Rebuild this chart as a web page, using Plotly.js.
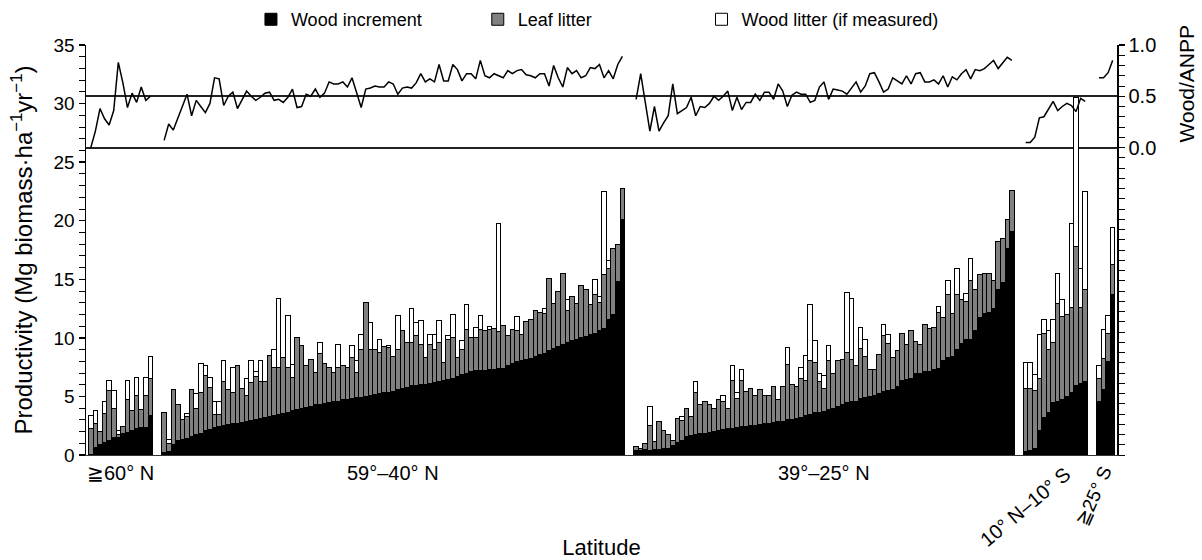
<!DOCTYPE html>
<html><head><meta charset="utf-8">
<script src="https://cdn.plot.ly/plotly-3.0.1.min.js"></script>
<style>html,body{margin:0;padding:0;background:#fff}#chart{width:1202px;height:560px}</style>
</head><body><div id="chart"></div>
<script>
// Group (latitude band) labels
const groupLabels = ['≧60° N', '59°–40° N', '39°–25° N', '10° N–10° S', '≧25° S'];
const seriesNames = ['Wood increment', 'Leaf litter', 'Wood litter (if measured)'];
const rightTitle = 'Wood/ANPP';
const rightTickVals = [0, 0.5, 1];
const rightTickText = ['0.0', '0.5', '1.0'];

// ≥60° N
const g1Wood   = [0.05,0.6,0.91,1.05,1.22,1.51,1.51,1.85,1.94,2.13,2.25,2.31,2.33,3.33];
const g1Leaf   = [2.23,2.1,1.08,2.51,4.25,2.48,0.25,0.57,2.81,1.63,2.79,1.59,2.71,3.22];
const g1Litter = [1.05,1.09,0,1.05,0.85,1.48,0.29,0,1.57,0,1.56,0,1.56,1.85];
const g1Ratio  = [0.0,0.16,0.38,0.28,0.22,0.36,0.83,0.63,0.39,0.53,0.44,0.59,0.46,0.50];

// 59°–40° N
const g2Wood = [0.25,0.3,0.91,1.28,1.34,1.42,1.57,1.71,1.85,2.13,2.19,2.33,2.42,
  2.5,2.6,2.65,2.7,2.8,2.85,2.95,3.0,3.1,3.2,3.27,3.35,3.5,3.56,3.65,3.8,3.9,4.0,4.05,4.15,4.27,4.35,4.4,4.45,4.55,4.6,4.7,4.75,4.84,
  4.9,4.95,5.0,5.1,5.2,5.25,5.3,5.35,5.4,5.55,5.7,5.8,5.9,5.95,6.0,6.05,6.1,6.15,6.25,6.35,6.45,6.55,6.7,6.9,7.0,7.15,7.2,7.22,7.24,7.26,
  7.3,7.35,7.4,7.6,7.8,7.95,8.05,8.15,8.25,8.4,8.55,8.7,8.9,9.1,9.3,9.45,9.6,9.75,9.85,10.0,10.1,10.25,10.4,10.6,10.8,11.6,12.0,14.8,20.1];
const g2Leaf = [3.35,0.7,4.69,3.05,1.71,1.85,4.03,2.27,3.47,4.62,3.56,1.09,1.05,
  3.76,2.95,2.67,4.9,2.89,2.27,3.23,3.69,3.16,3.06,5.21,4.11,3.96,4.75,3.81,2.8,6.15,5.34,3.58,4.02,2.79,4.28,3.37,3.01,2.48,2.86,2.9,2.71,3.47,
  2.13,4.07,8.0,3.92,3.82,3.49,3.95,3.82,3.05,3.47,4.89,3.79,3.69,4.21,3.45,2.26,3.35,2.87,3.34,1.53,3.43,3.47,1.61,2.12,3.73,2.87,2.82,3.51,3.35,3.47,
  3.52,3.18,3.62,2.56,2.93,2.72,2.25,3.24,3.28,3.93,3.6,3.4,6.19,3.85,4.65,6.06,2.73,3.77,3.1,4.46,3.99,2.56,3.26,2.44,4.57,4.34,5.65,3.13,2.67];
const g2Litter = [0,0.35,0,0,0,0.29,0,1.29,2.45,0.85,0.85,1.13,1.08,
  1.77,0,2.14,0,0,1.43,1.85,0.43,1.77,0,0,1.56,5.86,0,4.44,1.14,0,0,0,0,0,0.99,0,0,0,1.99,0,0,1.03,
  1.0,1.28,0,2.28,0,1.14,0,0.17,0,2.85,0,0,2.88,1.17,1.99,0,0.85,1.28,1.85,0,0.28,1.99,0,0.72,2.14,0,0.85,1.14,0,0.27,
  0,9.25,0,0,0,1.14,0,0,0,0,0,0.37,0,0,0,0,0.91,0,0,0,0,0,1.28,0.48,7.12,0.66,0,0,0];
const g2Ratio = [0.07,0.23,0.17,0.29,0.40,0.52,0.31,0.46,0.40,0.34,0.43,0.68,0.67,
  0.41,0.50,0.54,0.38,0.47,0.55,0.50,0.46,0.49,0.53,0.54,0.46,0.47,0.44,0.49,0.57,0.39,0.40,0.52,0.50,0.57,0.49,0.53,0.64,0.62,0.62,0.64,0.59,0.68,
  0.53,0.39,0.57,0.58,0.60,0.59,0.59,0.64,0.62,0.52,0.58,0.59,0.58,0.63,0.72,0.64,0.67,0.64,
  0.81,0.65,0.65,0.81,0.76,0.65,0.72,0.72,0.67,0.85,0.70,0.68,0.72,0.70,0.68,0.75,0.72,0.75,0.76,0.71,0.70,0.68,0.72,0.72,0.60,0.80,0.68,0.59,0.78,0.72,0.75,0.68,0.70,0.78,0.77,0.81,0.68,0.75,0.67,0.81,0.89];

// 39°–25° N
const g3Wood = [0.35,0.41,0.45,0.42,0.46,0.46,0.52,0.53,0.8,1.05,1.2,1.6,1.65,1.75,1.8,1.85,1.95,2.0,2.1,2.2,2.25,2.3,2.35,2.4,2.45,2.5,2.55,2.6,
  2.65,2.7,2.75,2.85,2.9,3.0,3.05,
  3.1,3.2,3.35,3.5,3.6,3.65,3.75,3.9,4.0,4.1,4.3,4.5,4.55,4.6,4.8,4.95,5.0,5.1,5.25,5.4,5.5,5.6,5.85,
  6.4,6.45,6.5,7.0,7.0,7.1,7.1,7.3,7.4,8.1,8.3,8.4,9.0,9.5,9.9,9.9,10.6,11.7,12.1,12.2,12.5,14.1,14.7,17.6,19.1];
const g3Leaf = [0.36,0.16,0.55,2.14,0.68,2.44,1.61,1.18,0.48,2.08,1.73,2.38,1.62,3.57,2.47,2.7,2.32,1.98,2.6,2.41,1.73,4.1,2.49,4.0,2.95,3.19,2.57,2.95,
  2.39,2.42,3.09,1.85,2.94,4.74,2.98,
  2.79,3.35,3.05,4.53,4.28,2.61,1.94,4.13,2.92,3.93,3.87,4.24,3.62,3.0,4.25,3.5,2.32,2.22,3.35,4.76,4.04,2.71,3.03,
  4.0,2.95,4.1,2.7,2.4,4.0,3.7,3.6,4.8,3.6,5.4,3.7,4.7,3.8,3.2,5.0,3.5,3.7,3.4,3.3,2.4,4.1,3.8,2.5,3.5];
const g3Litter = [0,0,0,1.62,0,0,0,0,0,0,0.34,0,0,0.94,0,0,0,0,0,0.43,0,1.23,0.48,0.92,0,0,0,0,
  0,0,0,0,0,1.45,0,
  0,0.91,2.08,4.84,1.86,0.66,1.06,1.28,0,0,0,5.15,5.15,0,1.85,1.43,0,0,0,1.0,0.76,0,0,
  0,0,0,0,0,0,0,0,0.5,0,1.2,0,2.2,0,0.7,1.9,0,0,0,0,0,0,0,0,0];
const g3Ratio = [0.47,0.72,0.44,0.16,0.40,0.16,0.24,0.31,0.62,0.33,0.36,0.39,0.49,0.31,0.40,0.39,0.43,0.50,0.46,0.50,0.55,0.36,0.49,0.37,0.44,0.44,0.52,0.46,0.54,0.54,0.47,0.62,0.55,0.40,0.51,
  0.54,0.52,0.52,0.44,0.46,0.59,0.64,0.47,0.57,0.56,0.55,0.52,0.58,0.64,0.54,0.60,0.72,0.73,0.64,0.54,0.57,0.68,0.65,0.62,0.70,0.62,0.72,0.73,0.64,0.64,0.66,0.62,0.70,0.59,0.69,0.66,0.72,0.76,0.67,0.76,0.75,0.77,0.81,0.85,0.77,0.83,0.88,0.85];

// 10° N–10° S
const g4Wood   = [0.3,0.4,0.57,2.1,3.2,3.6,4.5,4.55,4.75,5.0,5.3,5.9,6.1,6.3];
const g4Leaf   = [5.4,5.3,4.93,4.4,7.2,5.4,5.1,8.35,7.05,7.0,7.3,11.9,6.5,7.8];
const g4Litter = [2.2,2.2,1.4,3.8,1.2,1.6,2.0,2.6,1.5,0,7.2,12.7,3.3,8.4];
const g4Ratio  = [0.05,0.05,0.10,0.29,0.30,0.37,0.45,0.36,0.40,0.43,0.41,0.35,0.48,0.45];

// ≥25° S
const g5Wood   = [4.6,5.55,8.0,13.7];
const g5Leaf   = [1.9,2.65,2.4,2.6];
const g5Litter = [1.1,2.5,1.5,3.1];
const g5Ratio  = [0.68,0.68,0.73,0.85];

const groups = [
  {wood:g1Wood, leaf:g1Leaf, litter:g1Litter, ratio:g1Ratio},
  {wood:g2Wood, leaf:g2Leaf, litter:g2Litter, ratio:g2Ratio},
  {wood:g3Wood, leaf:g3Leaf, litter:g3Litter, ratio:g3Ratio},
  {wood:g4Wood, leaf:g4Leaf, litter:g4Litter, ratio:g4Ratio},
  {wood:g5Wood, leaf:g5Leaf, litter:g5Litter, ratio:g5Ratio}
];

const GAP = 2;
let pos = 0;
const xs = [], wood = [], leaf = [], litter = [], lineX = [], lineY = [], centers = [];
groups.forEach(g => {
  const start = pos;
  g.wood.forEach((w, i) => {
    xs.push(pos); wood.push(w); leaf.push(g.leaf[i]);
    litter.push(g.litter[i] > 0 ? g.litter[i] : null);
    lineX.push(pos); lineY.push(g.ratio[i]);
    pos++;
  });
  centers.push((start + pos - 1) / 2);
  lineX.push(pos); lineY.push(null);
  pos += GAP;
});
const nSlots = pos - GAP;

const barLine = {color: '#000', width: 1};
const traces = [
  {type: 'bar', name: seriesNames[0], legend: 'legend', x: xs, y: wood, marker: {color: '#000', line: barLine}},
  {type: 'bar', name: seriesNames[1], legend: 'legend2', x: xs, y: leaf, marker: {color: '#808080', line: barLine}},
  {type: 'bar', name: seriesNames[2], legend: 'legend3', x: xs, y: litter, marker: {color: '#fff', line: barLine}},
  {type: 'scatter', mode: 'lines', x: lineX, y: lineY, yaxis: 'y2', connectgaps: false,
   line: {color: '#000', width: 1.5}, showlegend: false, hoverinfo: 'skip'}
];

const labelAngle = [0, 0, 0, -40, -66];
const labelShift = [0, 0, 0, 22, 13];
const labelSize  = [20, 20, 20, 20, 19];
const annotations = groupLabels.map((t, i) => ({
  text: t, x: centers[i], xref: 'x', y: 0, yref: 'paper',
  yanchor: 'top', xanchor: labelAngle[i] === 0 ? 'center' : 'right',
  xshift: labelShift[i], yshift: -5, showarrow: false, textangle: labelAngle[i],
  font: {size: labelSize[i], color: '#000'}
}));
annotations.push({
  text: rightTitle, xref: 'paper', x: 1, xanchor: 'left', xshift: 56,
  yref: 'y2', y: 0.62, yanchor: 'middle', textangle: -90, showarrow: false,
  font: {size: 21, color: '#000'}
});

const legendBase = {orientation: 'h', y: 1.062, yanchor: 'middle', xanchor: 'left',
  font: {size: 18}, bgcolor: 'rgba(0,0,0,0)', borderwidth: 0};

const layout = {
  width: 1202, height: 560,
  margin: {l: 86, r: 85, t: 45, b: 105, autoexpand: false},
  paper_bgcolor: '#fff', plot_bgcolor: '#fff',
  barmode: 'stack', bargap: 0,
  font: {family: 'Liberation Sans, Arial, sans-serif', color: '#000', size: 18},
  showlegend: true,
  legend:  Object.assign({}, legendBase, {x: 0.16}),
  legend2: Object.assign({}, legendBase, {x: 0.38}),
  legend3: Object.assign({}, legendBase, {x: 0.597}),
  xaxis: {range: [-1.05, nSlots - 0.06], showticklabels: false, ticks: '', showgrid: false,
          zeroline: false, showline: true, linecolor: '#333', linewidth: 1, fixedrange: true,
          title: {text: 'Latitude', font: {size: 22}, standoff: 87}},
  yaxis: {range: [0, 35], tickmode: 'linear', tick0: 0, dtick: 5, ticks: 'outside', ticklen: 6,
          tickwidth: 1.5, tickcolor: '#000', showline: true, linecolor: '#000', linewidth: 1.5,
          showgrid: false, zeroline: false, tickfont: {size: 19},
          minor: {dtick: 1, tick0: 0, ticks: 'outside', ticklen: 6, tickwidth: 1, tickcolor: '#000', showgrid: false},
          title: {text: 'Productivity (Mg biomass·ha<sup>−1</sup>yr<sup>−1</sup>)', font: {size: 24}, standoff: 14}},
  yaxis2: {overlaying: 'y', side: 'right', range: [-3, 1], tickmode: 'array',
           tickvals: rightTickVals, ticktext: rightTickText, ticks: 'outside', ticklen: 6,
           tickwidth: 1.5, tickcolor: '#000', showline: true, linecolor: '#000', linewidth: 1.5,
           showgrid: true, gridcolor: '#222', gridwidth: 2, zeroline: false, tickfont: {size: 20},
           minor: {dtick: 0.1, tick0: 0, ticks: 'outside', ticklen: 6, tickwidth: 1, tickcolor: '#000', showgrid: false}},
  annotations: annotations
};

Plotly.newPlot('chart', traces, layout, {displayModeBar: false, staticPlot: true});
</script>
</body></html>
